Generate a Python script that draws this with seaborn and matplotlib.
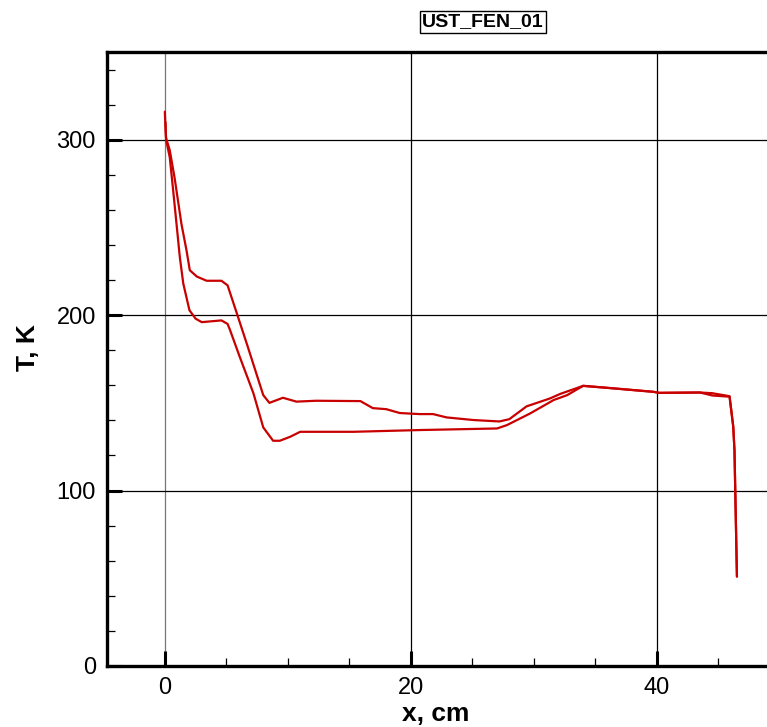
import numpy as np
import pandas as pd
import matplotlib
matplotlib.use("Agg")
import matplotlib.pyplot as plt
import seaborn as sns
from matplotlib.ticker import MultipleLocator

# upper branch of the temperature profile
x_upper = [0.0, 0.05, 0.1, 0.4, 0.8, 1.35, 1.76, 2.03, 2.6, 3.4, 4.6, 5.1, 5.5,
           5.9, 6.75, 8.0, 8.5, 9.6, 10.7, 12.3, 15.9, 16.9, 18.0, 19.1, 20.7,
           21.8, 22.9, 25.1, 27.2, 28.0, 29.4, 31.3, 32.1, 34.0, 35.9, 39.7,
           40.2, 43.5, 44.5, 45.9, 46.2, 46.3, 46.5]
T_upper = [316, 308, 301, 294, 278, 252, 237, 225.6, 222, 219.6, 219.6, 217, 208.5,
           200, 181.8, 154.4, 150, 152.9, 150.7, 151.2, 151, 147, 146.4, 144.2, 143.6,
           143.6, 141.7, 140.2, 139.4, 140.7, 148, 152.5, 155, 159.7, 158.6, 156.3,
           155.7, 155.9, 155.5, 153.8, 136.4, 123, 51]

# lower branch
x_lower = [0.05, 0.1, 0.4, 0.68, 0.95, 1.22, 1.5, 2.0, 2.5, 3.0, 4.6, 5.1, 5.3,
           6.1, 7.2, 8.0, 8.8, 9.35, 10.2, 11.0, 15.3, 20.7, 27.0, 27.8, 29.7,
           31.6, 32.7, 34.0, 35.9, 39.7, 40.2, 43.5, 44.5, 45.9, 46.2, 46.3, 46.5]
T_lower = [310, 300, 290, 271, 252, 233, 218, 202.8, 198, 196, 197, 195, 191.5,
           176, 155.5, 136, 128.4, 128.4, 130.7, 133.5, 133.5, 134.5, 135.4, 137.3, 144,
           151.6, 154.4, 159.7, 158.6, 156.3, 155.7, 155.9, 154.2, 153.5, 136.4, 123, 51]

x_ticks = [0, 20, 40]
y_ticks = [0, 100, 200, 300]

df = pd.concat([
    pd.DataFrame({"x": x_upper, "T": T_upper, "branch": "upper"}),
    pd.DataFrame({"x": x_lower, "T": T_lower, "branch": "lower"}),
])

sns.set_style("white")
plt.rcParams['font.family'] = ['Liberation Sans', 'DejaVu Sans']
plt.rcParams['text.color'] = 'black'
plt.rcParams['axes.labelcolor'] = 'black'
plt.rcParams['xtick.color'] = 'black'
plt.rcParams['ytick.color'] = 'black'

fig = plt.figure(figsize=(7.67, 7.27), dpi=100)
ax = fig.add_axes([107 / 767, 61 / 727, 673 / 767, 614 / 727])

sns.lineplot(data=df, x="x", y="T", units="branch", estimator=None, sort=False,
             color="#c80000", linewidth=1.6, ax=ax)

ax.set_xlim(-4.7, 50.0)
ax.set_ylim(0, 350)
ax.set_xticks(x_ticks)
ax.set_yticks(y_ticks)
ax.xaxis.set_minor_locator(MultipleLocator(5))
ax.yaxis.set_minor_locator(MultipleLocator(20))
ax.grid(True, which="major", color="black", linewidth=0.9)
ax.set_axisbelow(True)
# the grid line at x = 0 is drawn grey in the original
ax.xaxis.get_gridlines()[0].set_color("#777777")

ax.tick_params(which="major", direction="in", length=11, width=2.2,
               labelsize=17, pad=8, bottom=True, left=True)
ax.tick_params(which="minor", direction="in", length=6, width=0.9,
               bottom=True, left=True)
for s in ["left", "bottom", "top"]:
    ax.spines[s].set_linewidth(2.4)
    ax.spines[s].set_color("black")
ax.spines["right"].set_visible(False)

ax.set_xlabel("x, cm", fontsize=19, fontweight="bold")
ax.set_ylabel("T, K", fontsize=19, fontweight="bold")
ax.xaxis.set_label_coords(0.489, -0.058)
ax.yaxis.set_label_coords(-0.10, 0.518)

fig.text(483 / 767, 1 - 22 / 727, "UST_FEN_01", ha="center", va="center",
         fontsize=14, fontweight="bold",
         bbox=dict(boxstyle="square,pad=0.12", facecolor="white",
                   edgecolor="black", linewidth=1))

fig.savefig("out.png", dpi=100)
